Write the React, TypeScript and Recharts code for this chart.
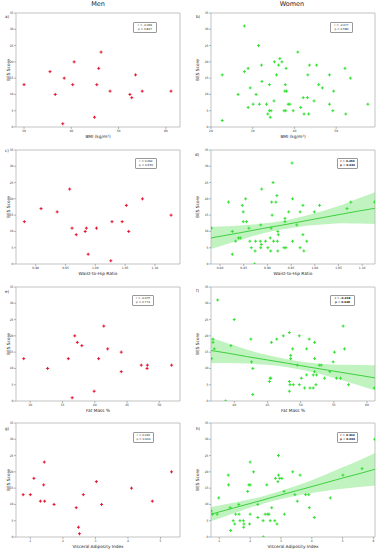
import React from 'react';
import { ComposedChart, Scatter, Line, Area, XAxis, YAxis, ReferenceArea } from 'recharts';

const FONT = '"DejaVu Sans", sans-serif';
const RED = '#e3142d';
const GREEN = '#33e033';
const FIT = '#3fcf3f';
const BAND = '#8eea8e';

const yTicks = [0, 5, 10, 15, 20, 25, 30, 35];

// a) men, BMI vs BES
const menBmi: [number, number][] = [
  [30, 13], [35.5, 17], [36.6, 10], [38.5, 15], [38.2, 1], [40.3, 13], [40.6, 20],
  [44.9, 3], [45.4, 13], [45.8, 18], [46.3, 23], [48.2, 11], [52.4, 10], [52.8, 9],
  [53.6, 16], [55.0, 11], [61.1, 11],
];

// b) women, BMI vs BES
const womenBmi: [number, number][] = [
  [22.7, 16], [22.7, 2], [26.5, 10], [28.0, 31], [28.0, 17], [28.9, 18], [28.9, 6],
  [29.4, 12], [30.1, 7], [30.8, 10], [31.4, 25], [31.6, 7], [32.1, 19], [32.2, 14],
  [33.3, 7], [33.6, 4], [34.0, 13], [34.0, 5], [34.2, 3], [34.4, 5], [35.1, 8],
  [35.2, 20], [35.7, 16], [36.2, 19], [36.5, 21], [37.0, 20], [37.5, 5], [37.7, 11],
  [37.8, 13], [38.0, 18], [38.1, 11], [37.9, 5], [38.5, 7], [38.9, 7], [39.7, 5],
  [40.8, 23], [41.5, 6], [42.1, 9], [42.3, 4], [43.1, 9], [43.2, 16], [43.4, 4],
  [43.6, 19], [44.7, 8], [45.3, 19], [45.8, 13], [46.7, 12], [48.4, 7], [48.4, 16],
  [49.2, 5], [49.4, 11], [52.1, 18], [52.3, 4], [53.4, 15], [57.6, 7],
];

// c) men, waist-to-hip ratio vs BES
const menWhr: [number, number][] = [
  [0.881, 13], [0.909, 17], [0.936, 16], [0.957, 23], [0.961, 11], [0.968, 9],
  [0.983, 10], [0.985, 11], [0.988, 3], [1.002, 11], [1.026, 1], [1.028, 13],
  [1.045, 13], [1.052, 18], [1.056, 10], [1.079, 20], [1.127, 15],
];

// d) women, waist-to-hip ratio vs BES
const womenWhr: [number, number][] = [
  [0.782, 11], [0.818, 19], [0.826, 10], [0.826, 3], [0.833, 7], [0.839, 8], [0.843, 8],
  [0.847, 18], [0.849, 16], [0.849, 13], [0.854, 20], [0.856, 13], [0.861, 11],
  [0.863, 7], [0.866, 5], [0.874, 4], [0.875, 7], [0.873, 0], [0.885, 7], [0.886, 12],
  [0.886, 5], [0.887, 6], [0.888, 23], [0.896, 7], [0.901, 5], [0.906, 8], [0.907, 4],
  [0.908, 11], [0.909, 19], [0.910, 15], [0.912, 25], [0.913, 7], [0.918, 19],
  [0.920, 21], [0.921, 7], [0.922, 10], [0.923, 9], [0.922, 4], [0.935, 5], [0.937, 14],
  [0.937, 13], [0.939, 5], [0.945, 16], [0.952, 31], [0.953, 20], [0.953, 7],
  [0.962, 12], [0.969, 16], [0.969, 5], [0.975, 18], [0.975, 9], [0.977, 4],
  [0.983, 7], [0.999, 16], [1.010, 18], [1.068, 17], [1.076, 19], [1.126, 19],
];
const whrFitX = [0.781, 0.85, 0.89, 0.93, 1.0, 1.03, 1.06, 1.09, 1.127];
const whrFitY = [8.0, 9.8, 10.9, 11.9, 13.8, 14.6, 15.4, 16.2, 17.1];
const whrFitLo = [4.6, 7.7, 9.4, 10.6, 12.0, 12.3, 12.5, 12.4, 12.3];
const whrFitHi = [11.4, 11.9, 12.4, 13.2, 15.6, 16.9, 18.3, 20.0, 22.0];

// e) men, fat mass % vs BES
const menFat: [number, number][] = [
  [29.0, 13], [32.7, 10], [35.9, 13], [36.5, 1], [36.9, 20], [37.3, 18], [38.0, 17],
  [39.9, 3], [40.6, 13], [41.4, 23], [42.0, 16], [44.1, 15], [44.1, 9], [47.2, 11],
  [48.1, 10], [48.15, 11], [51.9, 11],
];

// f) women, fat mass % vs BES
const womenFat: [number, number][] = [
  [36.6, 13], [36.8, 19], [36.8, 18], [37.0, 16], [37.5, 31], [38.7, 0], [39.5, 17],
  [40.0, 25], [42.5, 19], [42.6, 12], [42.8, 10], [42.8, 2], [45.3, 6], [45.4, 7],
  [45.5, 7], [45.6, 18], [46.4, 19], [47.4, 20], [48.3, 21], [48.3, 6], [48.4, 5],
  [48.3, 3], [48.5, 14], [48.5, 13], [48.8, 16], [48.9, 5], [49.5, 11], [49.8, 20],
  [49.8, 5], [50.1, 7], [50.6, 4], [50.9, 8], [50.9, 16], [51.3, 19], [51.4, 4],
  [51.9, 8], [51.9, 4], [52.1, 18], [52.1, 13], [52.1, 9], [52.3, 5], [52.4, 8],
  [52.8, 11], [53.1, 11], [53.6, 7], [54.4, 9], [54.9, 12], [55.1, 15], [55.4, 7],
  [56.0, 7], [56.4, 23], [56.6, 16], [57.2, 5], [61.1, 4],
];
const fatFitX = [36.5, 39, 42, 45, 48, 51, 54, 57, 61.2];
const fatFitY = [15.5, 14.7, 13.6, 12.6, 11.6, 10.5, 9.5, 8.5, 7.1];
const fatFitLo = [11.6, 11.7, 11.5, 11.1, 10.4, 9.2, 7.7, 5.9, 3.2];
const fatFitHi = [19.4, 17.7, 15.7, 14.1, 12.8, 11.8, 11.3, 11.1, 11.0];

// g) men, visceral adiposity index vs BES
const menVai: [number, number][] = [
  [0.78, 13], [1.0, 13], [1.11, 18], [1.31, 11], [1.41, 16], [1.43, 23], [1.44, 11],
  [1.73, 10], [2.41, 9], [2.48, 3], [2.51, 1], [2.63, 13], [3.03, 17], [3.19, 10],
  [4.11, 15], [4.75, 11], [5.34, 20],
];

// h) women, visceral adiposity index vs BES
const womenVai: [number, number][] = [
  [0.74, 8], [0.78, 7], [0.93, 7], [0.98, 12], [1.29, 19], [1.30, 16], [1.35, 9],
  [1.37, 2], [1.45, 5], [1.50, 4], [1.53, 7], [1.63, 10], [1.64, 7], [1.67, 5],
  [1.78, 5], [1.79, 3], [1.80, 4], [1.92, 14], [1.96, 16], [1.98, 4], [2.0, 16],
  [2.0, 23], [2.0, 7], [2.11, 20], [2.25, 10], [2.25, 6], [2.42, 5], [2.43, 0],
  [2.49, 7], [2.54, 16], [2.57, 7], [2.61, 7], [2.65, 5], [2.70, 9], [2.80, 5],
  [2.82, 18], [2.87, 4], [2.90, 17], [2.92, 19], [2.92, 25], [2.96, 18], [3.03, 18],
  [3.10, 14], [3.11, 7], [3.38, 20], [3.45, 13], [3.53, 11], [3.62, 19], [3.80, 13],
  [3.90, 13], [3.92, 9], [4.08, 6], [4.60, 12], [5.01, 19], [5.63, 21], [6.04, 30],
];
const vaiFitX = [0.73, 1.5, 2.2, 2.8, 3.5, 4.2, 5.0, 5.6, 6.05];
const vaiFitY = [7.0, 9.0, 10.8, 12.4, 14.2, 16.0, 18.1, 19.6, 20.8];
const vaiFitLo = [4.8, 7.4, 9.6, 11.2, 12.7, 13.8, 14.8, 15.4, 15.8];
const vaiFitHi = [9.2, 10.6, 12.0, 13.6, 15.7, 18.2, 21.4, 23.8, 25.8];

type Fit = { x: number[]; y: number[]; lo: number[]; hi: number[] };

const PlusMark = (props: any) => {
  const { cx, cy, fill } = props;
  if (cx == null || cy == null) return null;
  const r = 1.5;
  return (
    <g stroke={fill} strokeWidth={1}>
      <line x1={cx - r} y1={cy} x2={cx + r} y2={cy} />
      <line x1={cx} y1={cy - r} x2={cx} y2={cy + r} />
    </g>
  );
};

interface PanelProps {
  left: number;
  top: number;
  yAxisW: number;
  pts: [number, number][];
  color: string;
  xDomain: [number, number];
  xTicks: number[];
  xLabel: string;
  digits?: number;
  fit?: Fit;
}

const PW = 164;
const PH = 114;

function Panel({ left, top, yAxisW, pts, color, xDomain, xTicks, xLabel, digits = 0, fit }: PanelProps) {
  const data = pts.map(([x, y]) => ({ x, y }));
  const fitData = fit
    ? fit.x.map((x, i) => ({ x, y: fit.y[i], band: [fit.lo[i], fit.hi[i]] }))
    : [];
  const mt = 2;
  const mr = 2;
  const xh = 12;
  const tickStyle = { fontSize: 3, fill: '#333', fontFamily: FONT };
  return (
    <div style={{ position: 'absolute', left: left - yAxisW, top: top - mt }}>
      <ComposedChart
        width={yAxisW + PW + mr}
        height={mt + PH + xh}
        margin={{ top: mt, right: mr, bottom: 0, left: 0 }}
      >
        <XAxis
          type="number"
          dataKey="x"
          domain={xDomain}
          ticks={xTicks}
          interval={0}
          allowDataOverflow
          height={xh}
          axisLine={false}
          tickLine={{ stroke: '#888', strokeWidth: 0.6 }}
          tickSize={2}
          tickMargin={0.5}
          tick={tickStyle}
          tickFormatter={(v: number) => v.toFixed(digits)}
          label={{ value: xLabel, position: 'insideBottom', offset: 1.5, fontSize: 4.3, fill: '#222', fontFamily: FONT }}
        />
        <YAxis
          type="number"
          dataKey="y"
          domain={[0, 35]}
          ticks={yTicks}
          interval={0}
          allowDataOverflow
          width={yAxisW}
          axisLine={false}
          tickLine={{ stroke: '#888', strokeWidth: 0.6 }}
          tickSize={2}
          tickMargin={0.5}
          tick={tickStyle}
          label={{ value: 'BES Score', angle: -90, position: 'center', fontSize: 4.3, fill: '#222', fontFamily: FONT }}
        />
        {fit && (
          <Area
            data={fitData}
            dataKey="band"
            type="monotone"
            stroke="none"
            fill={BAND}
            fillOpacity={0.55}
            isAnimationActive={false}
          />
        )}
        {fit && (
          <Line
            data={fitData}
            dataKey="y"
            type="linear"
            stroke={FIT}
            strokeWidth={1}
            dot={false}
            isAnimationActive={false}
          />
        )}
        <Scatter data={data} fill={color} shape={<PlusMark />} isAnimationActive={false} />
        <ReferenceArea
          x1={xDomain[0]}
          x2={xDomain[1]}
          y1={0}
          y2={35}
          fill="none"
          stroke="#b4b4b4"
          strokeWidth={0.8}
        />
      </ComposedChart>
    </div>
  );
}

const StatBox = ({ left, top, w, r, p, bold }: { left: number; top: number; w: number; r: string; p: string; bold?: boolean }) => (
  <div
    style={{
      position: 'absolute',
      left,
      top,
      width: w,
      height: 11,
      border: '0.6px solid #999',
      borderRadius: 1,
      fontSize: 2.8,
      lineHeight: '3.4px',
      fontWeight: bold ? 'bold' : 'normal',
      color: '#222',
      display: 'flex',
      flexDirection: 'column',
      justifyContent: 'center',
      alignItems: 'center',
      boxSizing: 'border-box',
      background: '#fff',
    }}
  >
    <span>r = {r}</span>
    <span>p = {p}</span>
  </div>
);

const Tag = ({ left, top, text }: { left: number; top: number; text: string }) => (
  <div style={{ position: 'absolute', left, top, fontSize: 4, color: '#222', lineHeight: '4px' }}>{text}</div>
);

const MEN_L = 16;
const WOMEN_L = 211;
const ROWS = [13, 150, 287, 423];

export default function App() {
  return (
    <div
      style={{
        position: 'absolute',
        left: 0,
        top: 0,
        width: 381,
        height: 550,
        background: '#fff',
        fontFamily: FONT,
        overflow: 'hidden',
      }}
    >
      <div style={{ position: 'absolute', left: 78, width: 40, top: 0, textAlign: 'center', fontSize: 6.5, color: '#222' }}>Men</div>
      <div style={{ position: 'absolute', left: 272, width: 40, top: 0, textAlign: 'center', fontSize: 6.5, color: '#222' }}>Women</div>

      <Panel left={MEN_L} top={ROWS[0]} yAxisW={16} pts={menBmi} color={RED}
        xDomain={[28.3, 63]} xTicks={[30, 40, 50, 60]} xLabel="BMI (kg/m²)" />
      <Panel left={WOMEN_L} top={ROWS[0]} yAxisW={27} pts={womenBmi} color={GREEN}
        xDomain={[20, 59.3]} xTicks={[20, 30, 40, 50]} xLabel="BMI (kg/m²)" />

      <Panel left={MEN_L} top={ROWS[1]} yAxisW={16} pts={menWhr} color={RED}
        xDomain={[0.867, 1.142]} xTicks={[0.9, 0.95, 1.0, 1.05, 1.1]} xLabel="Waist-to-Hip Ratio" digits={2} />
      <Panel left={WOMEN_L} top={ROWS[1]} yAxisW={27} pts={womenWhr} color={GREEN}
        xDomain={[0.781, 1.127]} xTicks={[0.8, 0.85, 0.9, 0.95, 1.0, 1.05, 1.1]} xLabel="Waist-to-Hip Ratio" digits={2}
        fit={{ x: whrFitX, y: whrFitY, lo: whrFitLo, hi: whrFitHi }} />

      <Panel left={MEN_L} top={ROWS[2]} yAxisW={16} pts={menFat} color={RED}
        xDomain={[27.8, 53.2]} xTicks={[30, 35, 40, 45, 50]} xLabel="Fat Mass %" />
      <Panel left={WOMEN_L} top={ROWS[2]} yAxisW={27} pts={womenFat} color={GREEN}
        xDomain={[36.5, 61.2]} xTicks={[40, 45, 50, 55, 60]} xLabel="Fat Mass %"
        fit={{ x: fatFitX, y: fatFitY, lo: fatFitLo, hi: fatFitHi }} />

      <Panel left={MEN_L} top={ROWS[3]} yAxisW={16} pts={menVai} color={RED}
        xDomain={[0.56, 5.6]} xTicks={[1, 2, 3, 4, 5]} xLabel="Visceral Adiposity Index" />
      <Panel left={WOMEN_L} top={ROWS[3]} yAxisW={27} pts={womenVai} color={GREEN}
        xDomain={[0.73, 6.05]} xTicks={[1, 2, 3, 4, 5, 6]} xLabel="Visceral Adiposity Index"
        fit={{ x: vaiFitX, y: vaiFitY, lo: vaiFitLo, hi: vaiFitHi }} />

      <Tag left={5} top={15} text="a)" />
      <Tag left={196} top={15} text="b)" />
      <Tag left={5} top={149} text="c)" />
      <Tag left={195} top={153} text="d)" />
      <Tag left={5} top={290} text="e)" />
      <Tag left={196} top={289} text="f)" />
      <Tag left={5} top={427} text="g)" />
      <Tag left={196} top={427} text="h)" />

      <StatBox left={133} top={22} w={24} r="-0.069" p="0.827" />
      <StatBox left={330} top={22} w={23} r="-0.077" p="0.580" />
      <StatBox left={135} top={158} w={22} r="0.092" p="0.650" />
      <StatBox left={337} top={158} w={21} r="0.266" p="0.029" bold />
      <StatBox left={132} top={295} w={22} r="-0.075" p="0.774" />
      <StatBox left={330} top={295} w={25} r="-0.298" p="0.028" bold />
      <StatBox left={133} top={432} w={21} r="0.032" p="0.904" />
      <StatBox left={337} top={432} w={21} r="0.392" p="0.003" bold />
    </div>
  );
}
